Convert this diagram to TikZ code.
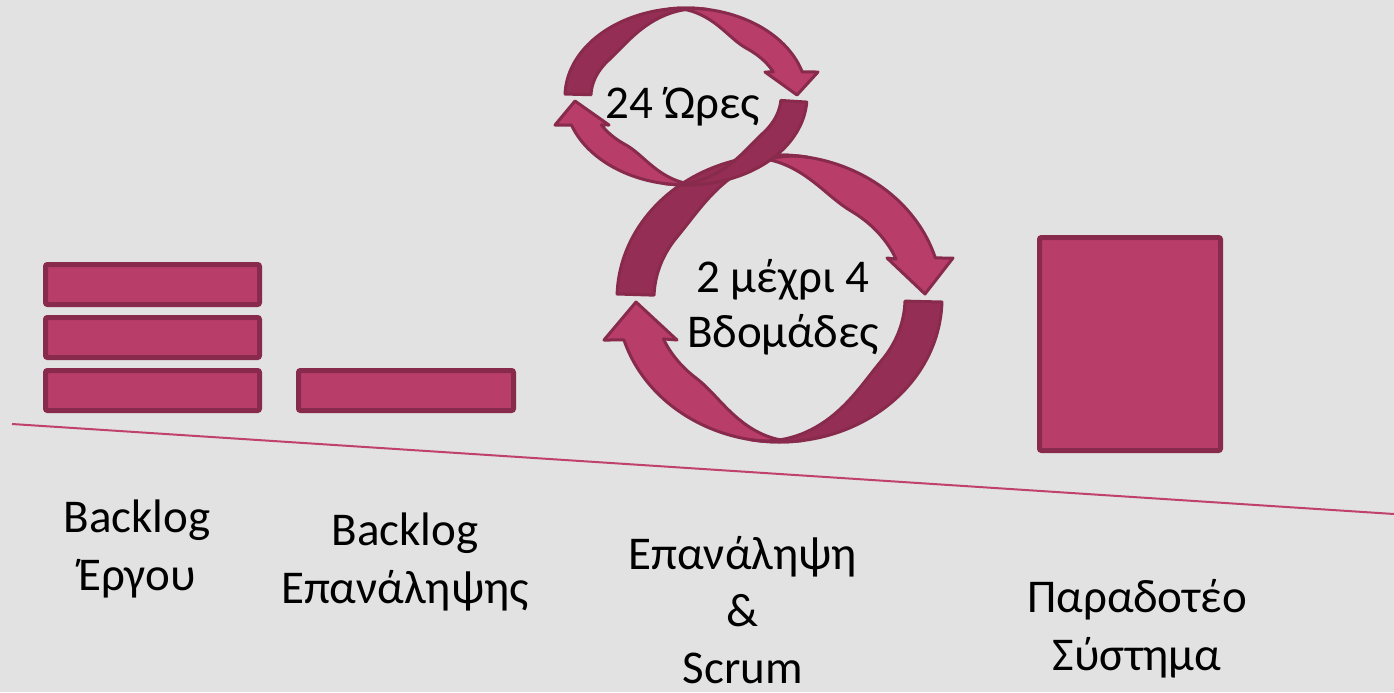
\documentclass[tikz,border=0pt]{standalone}
\usepackage{fontspec}
\setmainfont{Carlito}
\definecolor{bg}{HTML}{E2E2E2}
\definecolor{mlight}{HTML}{B93D69}
\definecolor{mdark}{HTML}{952E54}
\definecolor{mborder}{HTML}{882A4B}
\definecolor{mline}{HTML}{C0416B}
\begin{document}
\begin{tikzpicture}[x=0.5pt,y=-0.5pt,
  declare function={clampu(\x,\y,\z)=min(1,max(0,(\x-\y)/(\z-\y)));
                    fall(\x,\y,\z)=0.5*(1+cos(180*clampu(\x,\y,\z)));
                    rise(\x,\y,\z)=1-fall(\x,\y,\z);},
  bar/.style={draw=mborder, line width=2.5pt, fill=mlight, rounded corners=1pt, inner sep=0pt, outer sep=0pt},
  lightrib/.style={draw=mborder, line width=1.5pt, fill=mlight, line join=round},
  darkrib/.style={draw=mborder, line width=1.5pt, fill=mdark, line join=round},
  lbl/.style={font=\fontsize{23.5pt}{29pt}\selectfont, align=center, anchor=base, inner sep=0pt, text=black}]
\useasboundingbox (0,0) rectangle (1394,692);
\fill[bg] (0,0) rectangle (1394,692);
% baseline
\coordinate (l1) at (12,424);
\coordinate (l2) at (1394,514);
\draw[mline, line width=1pt] (l1) -- (l2);
% bars
\node[bar, minimum width=107pt, minimum height=20pt] (pb1) at (152.5,284.5) {};
\node[bar, minimum width=107pt, minimum height=20pt] (pb2) at (152.5,337.5) {};
\node[bar, minimum width=107pt, minimum height=20pt] (pb3) at (152.5,390.5) {};
\node[bar, minimum width=107.5pt, minimum height=20pt] (sb) at (406,390.5) {};
\node[bar, minimum width=90.5pt, minimum height=106.5pt] (del) at (1130,344) {};
% big circular arrows
\filldraw[lightrib] plot[variable=\t,domain=255:343.6,samples=50] ({779.5+162.5*cos(\t)},{298.5+143.5*sin(\t)})
  -- (953,258) -- (925,294) -- (887,258)
  -- plot[variable=\t,domain=338.3:255,samples=50] ({779.5+(162.5-37*rise(\t,255,305))*cos(\t)},{298.5+(143.5-37*rise(\t,255,305))*sin(\t)}) -- cycle;
\filldraw[lightrib] plot[variable=\t,domain=82:163.2,samples=50] ({779.5+162.5*cos(\t)},{298.5+143.5*sin(\t)})
  -- (604,340) -- (636,302) -- (677,340)
  -- plot[variable=\t,domain=157.7:82,samples=50] ({779.5+(162.5-37*rise(\t,82,132))*cos(\t)},{298.5+(143.5-37*rise(\t,82,132))*sin(\t)}) -- cycle;
\filldraw[darkrib] plot[variable=\t,domain=181.8:280,samples=50] ({779.5+162.5*cos(\t)},{298.5+143.5*sin(\t)})
  -- plot[variable=\t,domain=280:181.8,samples=50] ({779.5+(162.5-37*fall(\t,215,280))*cos(\t)},{298.5+(143.5-37*fall(\t,215,280))*sin(\t)}) -- cycle;
\filldraw[darkrib] plot[variable=\t,domain=1.4:100,samples=50] ({779.5+162.5*cos(\t)},{298.5+143.5*sin(\t)})
  -- plot[variable=\t,domain=100:1.4,samples=50] ({779.5+(162.5-37*fall(\t,35,100))*cos(\t)},{298.5+(143.5-37*fall(\t,35,100))*sin(\t)}) -- cycle;
% small circular arrows
\filldraw[lightrib] plot[variable=\t,domain=262:343.9,samples=50] ({686+121*cos(\t)},{96.5+88.5*sin(\t)})
  -- (818,72) -- (797,95) -- (765,72)
  -- plot[variable=\t,domain=336.9:262,samples=50] ({686+(121-26*rise(\t,262,310))*cos(\t)},{96.5+(88.5-26*rise(\t,262,310))*sin(\t)}) -- cycle;
\filldraw[lightrib] plot[variable=\t,domain=82:161.2,samples=50] ({686+121*cos(\t)},{96.5+88.5*sin(\t)})
  -- (555,125) -- (575,101) -- (609,125)
  -- plot[variable=\t,domain=152.9:82,samples=50] ({686+(121-26*rise(\t,82,130))*cos(\t)},{96.5+(88.5-26*rise(\t,82,130))*sin(\t)}) -- cycle;
\filldraw[darkrib] plot[variable=\t,domain=181.6:280,samples=50] ({686+121*cos(\t)},{96.5+88.5*sin(\t)})
  -- plot[variable=\t,domain=280:181.6,samples=50] ({686+(121-26*fall(\t,215,280))*cos(\t)},{96.5+(88.5-26*fall(\t,215,280))*sin(\t)}) -- cycle;
\filldraw[darkrib] plot[variable=\t,domain=3.6:100,samples=50] ({686+121*cos(\t)},{96.5+88.5*sin(\t)})
  -- plot[variable=\t,domain=100:3.6,samples=50] ({686+(121-26*fall(\t,35,100))*cos(\t)},{96.5+(88.5-26*fall(\t,35,100))*sin(\t)}) -- cycle;
% labels (anchor=base sits on the last line)
\node[lbl] (tpb) at (137,590) {Backlog\\Έργου};
\node[lbl] (tsb) at (405,603) {Backlog\\Επανάληψης};
\node[lbl, font=\fontsize{23.5pt}{28.5pt}\selectfont] (tit) at (743,683) {Επανάληψη\\\&\\Scrum};
\node[lbl] (tdel) at (1137,670) {Παραδοτέο\\Σύστημα};
\node[lbl] (tday) at (683,118) {24 Ώρες};
\node[lbl, font=\fontsize{23.5pt}{27.5pt}\selectfont] (tsp) at (783,347) {2 μέχρι 4\\Βδομάδες};
\end{tikzpicture}
\end{document}
